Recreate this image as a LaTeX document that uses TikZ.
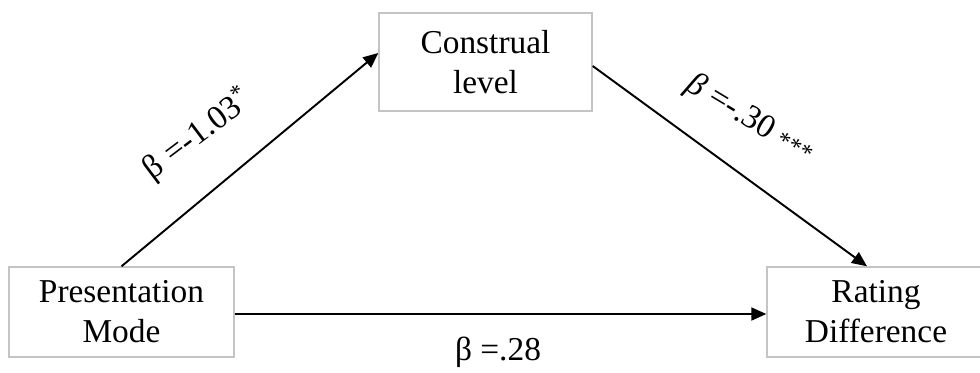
\documentclass[tikz,border=0pt]{standalone}
\usepackage{fontspec}
\setmainfont{Liberation Serif}
\usepackage{tikz}
\usetikzlibrary{arrows.meta, positioning, calc}
\definecolor{boxgray}{HTML}{C4C4C4}

\begin{document}
\begin{tikzpicture}[
    block/.style={rectangle, draw=boxgray, line width=0.8pt, minimum height=1.8cm, align=center, font=\fontsize{19}{22.8}\selectfont},
    arr/.style={-{Triangle[length=3mm, width=2.6mm]}, line width=1.1pt},
    coef/.style={font=\fontsize{19}{22.8}\selectfont, inner sep=0pt}
]
\useasboundingbox (0,0) rectangle (19.6,7.44);
% Variables
\node[block, minimum width=4.5cm] (mode) at (2.43,1.2) {Presentation\\Mode};
\node[block, minimum width=4.26cm, minimum height=1.96cm] (construal) at (9.71,6.2) {Construal\\level};
\node[block, minimum width=4.36cm] (rating) at (17.52,1.2) {Rating\\Difference};

\draw[arr] (mode.north) -- ([yshift=0.18cm]construal.west);
\draw[arr] ([yshift=-0.08cm]construal.east) -- ([xshift=-0.18cm]rating.north);
\draw[arr] ([yshift=-0.04cm]mode.east) -- ([yshift=-0.04cm]rating.west);

% Path coefficients
\node[coef, rotate=37] (apath) at (3.95,4.75) {β =-1.03\textsuperscript{*}};
\node[coef, rotate=-31] (bpath) at (15.0,5.05) {\textit{β} =-.30 {\fontsize{14}{14}\selectfont ***}};
\node[coef] (cpath) at (9.96,0.4) {β =.28};
\end{tikzpicture}
\end{document}
